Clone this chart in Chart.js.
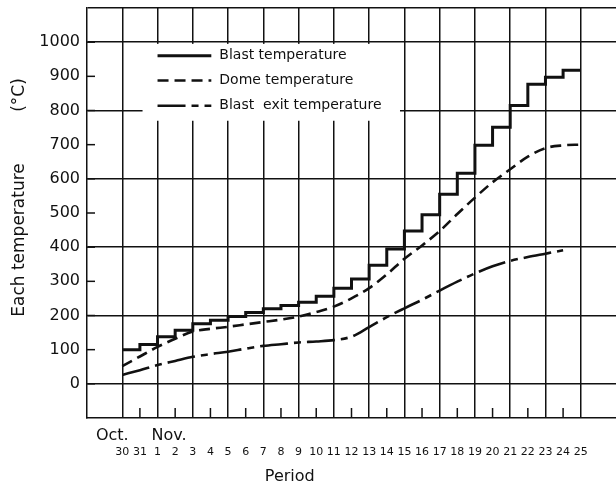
<!DOCTYPE html>
<html>
<head>
<meta charset="utf-8">
<script src="https://cdn.jsdelivr.net/npm/chart.js@4"></script>
<style>
  html, body { margin: 0; padding: 0; background: #ffffff; }
  #wrap { width: 616px; height: 488px; position: relative; }
</style>
</head>
<body>
<div id="wrap"><canvas id="c" width="616" height="488"></canvas></div>
<script>
// Day labels (Oct 30 ... Nov 25), index 0 = Oct 30
const days = ['30','31','1','2','3','4','5','6','7','8','9','10','11','12','13','14','15','16','17','18','19','20','21','22','23','24','25'];
// Blast temperature held for each day period (Oct 30 ... Nov 24), step line
const blastTemp = [100,115,138,157,176,186,197,209,220,229,239,256,280,307,347,395,447,495,555,616,698,751,815,877,897,918];
// Dome temperature at each day (Oct 30 ... Nov 25)
const domeTemp = [52,80,108,132,153,161,167,174,181,188,197,210,226,250,280,320,366,405,447,497,545,590,628,665,690,698,700];
// Blast exit temperature at each day (Oct 30 ... Nov 24)
const exitTemp = [26,40,55,67,79,87,94,103,111,116,121,124,128,138,166,195,221,246,273,299,323,344,360,371,381,391];
const seriesNames = ['Blast temperature', 'Dome temperature', 'Blast  exit temperature'];

const INK = '#111111';
const FONT = '"DejaVu Sans", "Liberation Sans", sans-serif';

const blastPts = blastTemp.map((v, i) => ({x: i, y: v}));
blastPts.push({x: blastTemp.length, y: blastTemp[blastTemp.length - 1]});
const domePts = domeTemp.map((v, i) => ({x: i, y: v}));
const exitPts = exitTemp.map((v, i) => ({x: i, y: v}));

const styles = [
  {width: 3, dash: []},
  {width: 2.6, dash: [11, 6]},
  {width: 2.6, dash: [28, 6, 7, 6]}
];

function seg(ctx, x1, y1, x2, y2) {
  ctx.beginPath(); ctx.moveTo(x1, y1); ctx.lineTo(x2, y2); ctx.stroke();
}

const decor = {
  id: 'decor',
  afterDraw(chart) {
    const {ctx, chartArea: a, scales: {x, y}} = chart;
    ctx.save();
    ctx.strokeStyle = INK;
    ctx.lineWidth = 1.5;
    ctx.setLineDash([]);
    // short ticks at odd days along the bottom
    for (let i = 1; i < days.length; i += 2) {
      const px = x.getPixelForValue(i);
      seg(ctx, px, a.bottom, px, a.bottom - 10);
    }
    // inward ticks every 100 on the left axis
    for (let v = 0; v <= 1000; v += 100) {
      const py = y.getPixelForValue(v);
      seg(ctx, a.left, py, a.left + 8, py);
    }
    // legend box
    const bx = x.getPixelForValue(1.15), bx2 = x.getPixelForValue(15.75);
    const by = y.getPixelForValue(995), by2 = y.getPixelForValue(770);
    ctx.fillStyle = '#ffffff';
    ctx.fillRect(bx, by, bx2 - bx, by2 - by);
    const lx1 = x.getPixelForValue(2), lx2 = x.getPixelForValue(5.05);
    const rowsY = [960, 888, 814].map(v => y.getPixelForValue(v));
    ctx.fillStyle = INK;
    ctx.font = '14px ' + FONT;
    ctx.textBaseline = 'middle';
    ctx.textAlign = 'left';
    seriesNames.forEach((name, k) => {
      ctx.lineWidth = styles[k].width;
      ctx.setLineDash(styles[k].dash);
      seg(ctx, lx1, rowsY[k], lx2, rowsY[k]);
      ctx.fillText(name, lx2 + 8, rowsY[k]);
    });
    ctx.setLineDash([]);
    // month labels
    ctx.font = '16px ' + FONT;
    ctx.textAlign = 'center';
    ctx.fillText('Oct.', x.getPixelForValue(0) - 10, a.bottom + 18);
    ctx.textAlign = 'left';
    ctx.fillText('Nov.', x.getPixelForValue(2) - 6, a.bottom + 18);
    // x title
    ctx.textAlign = 'center';
    ctx.fillText('Period', x.getPixelForValue(9.5), a.bottom + 59);
    // y title
    ctx.save();
    ctx.font = '17px ' + FONT;
    ctx.translate(20, 0);
    ctx.rotate(-Math.PI / 2);
    ctx.textAlign = 'center';
    ctx.fillText('Each temperature', -240, 0);
    ctx.fillText('(\u00B0C)', -95, 0);
    ctx.restore();
    ctx.restore();
  }
};

new Chart(document.getElementById('c'), {
  type: 'line',
  data: {
    datasets: [
      {label: seriesNames[0], data: blastPts, stepped: 'before', borderColor: INK, borderWidth: styles[0].width, pointRadius: 0, fill: false},
      {label: seriesNames[1], data: domePts, borderColor: INK, borderWidth: styles[1].width, borderDash: styles[1].dash, pointRadius: 0, tension: 0.4, cubicInterpolationMode: 'monotone', fill: false},
      {label: seriesNames[2], data: exitPts, borderColor: INK, borderWidth: styles[2].width, borderDash: styles[2].dash, pointRadius: 0, tension: 0.4, cubicInterpolationMode: 'monotone', fill: false}
    ]
  },
  options: {
    responsive: false,
    animation: false,
    devicePixelRatio: 1,
    layout: {padding: {top: 8, right: 0, bottom: 0, left: 0}},
    plugins: {legend: {display: false}, tooltip: {enabled: false}},
    scales: {
      x: {
        type: 'linear',
        min: -2, max: 28,
        afterFit(s) { s.height = 70; s.paddingLeft = 0; s.paddingRight = 0; },
        border: {display: true, color: INK, width: 1.5},
        grid: {
          drawTicks: false,
          lineWidth: 1.5,
          color: c => {
            const v = c.tick ? c.tick.value : NaN;
            return (Number.isInteger(v) && v % 2 === 0 && v >= 0 && v < 28) ? INK : 'rgba(0,0,0,0)';
          }
        },
        ticks: {
          stepSize: 1, maxTicksLimit: 100, autoSkip: false, maxRotation: 0, minRotation: 0,
          padding: 28, color: INK, font: {family: FONT, size: 11},
          callback: v => (Number.isInteger(v) && v >= 0 && v < days.length) ? days[v] : ''
        }
      },
      y: {
        type: 'linear',
        min: -100, max: 1100,
        afterFit(s) { s.width = 87; s.paddingTop = 0; s.paddingBottom = 0; },
        border: {display: true, color: INK, width: 1.5},
        grid: {
          drawTicks: false,
          lineWidth: 1.5,
          color: c => {
            const v = c.tick ? c.tick.value : NaN;
            return (v % 200 === 0 || v === 1100) ? INK : 'rgba(0,0,0,0)';
          }
        },
        ticks: {
          stepSize: 100, maxTicksLimit: 100, padding: 7, color: INK, font: {family: FONT, size: 16},
          callback: v => (v >= 0 && v <= 1000) ? String(v) : ''
        }
      }
    }
  },
  plugins: [decor]
});
</script>
</body>
</html>
